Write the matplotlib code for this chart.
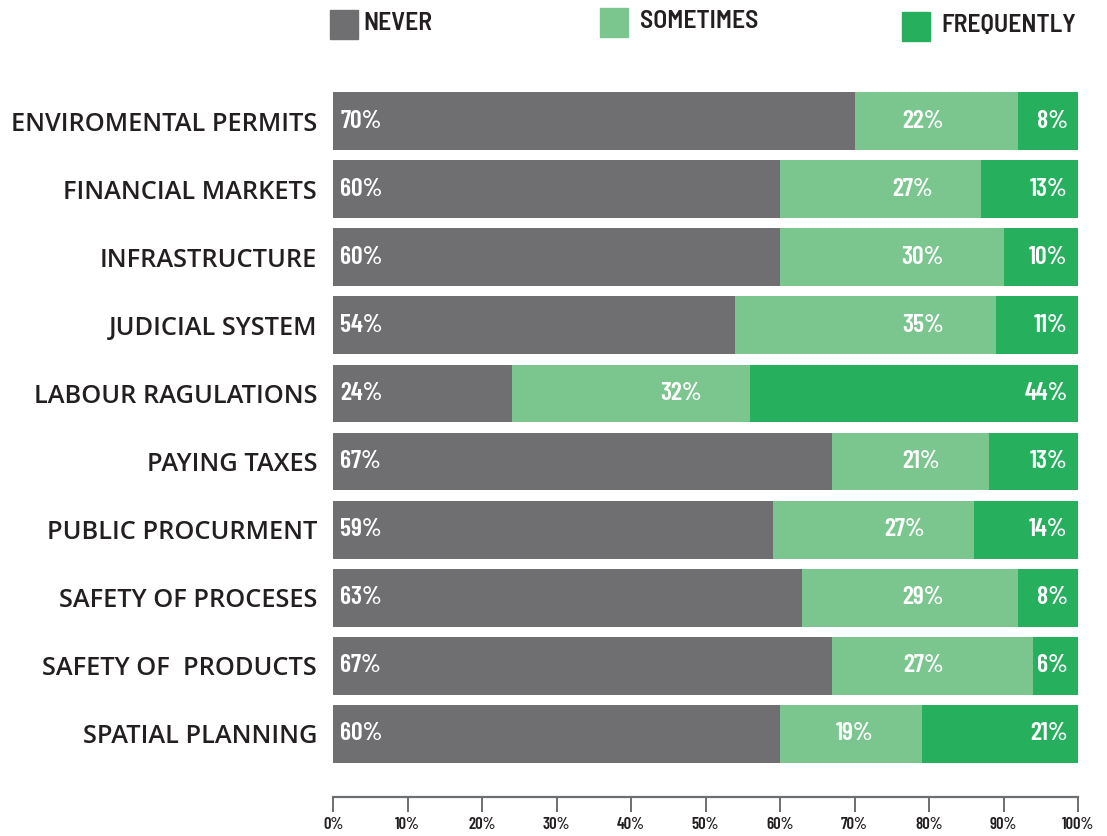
import matplotlib
matplotlib.use("Agg")
import matplotlib.pyplot as plt
from matplotlib.patches import Rectangle

# Survey answers per business area (share of respondents, %)
categories = [
    "ENVIROMENTAL PERMITS",
    "FINANCIAL MARKETS",
    "INFRASTRUCTURE",
    "JUDICIAL SYSTEM",
    "LABOUR RAGULATIONS",
    "PAYING TAXES",
    "PUBLIC PROCURMENT",
    "SAFETY OF PROCESES",
    "SAFETY OF  PRODUCTS",
    "SPATIAL PLANNING",
]
never = [70, 60, 60, 54, 24, 67, 59, 63, 67, 60]
sometimes = [22, 27, 30, 35, 32, 21, 27, 29, 27, 19]
frequently = [8, 13, 10, 11, 44, 13, 14, 8, 6, 21]

series_names = ["NEVER", "SOMETIMES", "FREQUENTLY"]
tick_values = [0, 10, 20, 30, 40, 50, 60, 70, 80, 90, 100]

GREY = "#6f6f71"
LIGHT_GREEN = "#7bc68e"
GREEN = "#26b05e"
DARK = "#231f20"
NARROW = ["Barlow Condensed", "Roboto Condensed", "Roboto"]
SEMI_NARROW = ["Barlow Semi Condensed", "Roboto Condensed", "Roboto"]

W, H = 1107, 836
fig = plt.figure(figsize=(W / 100, H / 100), dpi=100)
ax = fig.add_axes([333 / W, 1 - 768 / H, 745 / W, 681 / H])

# spine placement first: moving a spine rebuilds its ticks
for side in ["top", "right", "left"]:
    ax.spines[side].set_visible(False)
ax.spines["bottom"].set_position(("outward", 21))
ax.spines["bottom"].set_color("#6d6e71")
ax.spines["bottom"].set_linewidth(1.6)

y = list(range(len(categories)))
left_freq = [n + s for n, s in zip(never, sometimes)]

ax.barh(y, never, height=0.85, color=GREY)
ax.barh(y, sometimes, left=never, height=0.85, color=LIGHT_GREEN)
ax.barh(y, frequently, left=left_freq, height=0.85, color=GREEN)

val_font = dict(fontfamily=NARROW, fontweight="semibold", fontsize=18.5,
                color="white", va="center")
for i in y:
    ax.text(1.0, i, f"{never[i]}%", ha="left", **val_font)
    some_end = never[i] + sometimes[i]
    ax.text(min(some_end - 6.5, 82), i, f"{sometimes[i]}%", ha="right", **val_font)
    ax.text(98.6, i, f"{frequently[i]}%", ha="right", **val_font)

ax.set_xlim(0, 100)
ax.set_ylim(len(categories) - 0.5, -0.5)

ax.set_yticks(y, labels=categories, fontfamily="Open Sans", fontweight="semibold",
              fontsize=18.3, color=DARK)
ax.tick_params(axis="y", length=0, pad=11.5)

ax.tick_params(axis="x", direction="out", length=10.5, width=1.4, color="#6d6e71", pad=4)
ax.set_xticks(tick_values, labels=[f"{v}%" for v in tick_values],
              fontfamily=NARROW, fontweight="semibold", fontsize=12, color=DARK)

# legend squares and labels along the top
legend_items = [
    (330, 10, 363, GREY),
    (600, 8, 640, LIGHT_GREEN),
    (902, 12, 941, GREEN),
]
for (x0, top, tx, color), name in zip(legend_items, series_names):
    fig.patches.append(Rectangle((x0 / W, 1 - (top + 29) / H), 28 / W, 29 / H,
                                 transform=fig.transFigure, color=color))
    fig.text(tx / W, 1 - (top + 14) / H, name,
             fontfamily=SEMI_NARROW, fontweight="semibold", fontsize=18.5, color=DARK,
             ha="left", va="center")

fig.savefig("out.png", dpi=100)
